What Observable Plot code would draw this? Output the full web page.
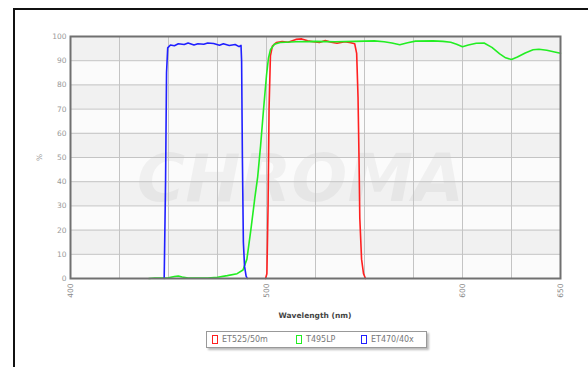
<!DOCTYPE html>
<html>
<head>
<meta charset="utf-8">
<script src="https://cdn.jsdelivr.net/npm/d3@7"></script>
<script src="https://cdn.jsdelivr.net/npm/@observablehq/plot@0.6"></script>
<style>
  html, body { margin: 0; padding: 0; background: #fff; }
  #wrap { position: relative; width: 588px; height: 367px; overflow: hidden; font-family: "DejaVu Sans", sans-serif; }
  #border { position: absolute; left: 13px; top: 8px; width: 600px; height: 400px; border: 2px solid #111; box-sizing: border-box; }
  #chart { position: absolute; left: 0; top: 0; }
  #xtitle { position: absolute; left: 0; width: 630px; top: 311px; text-align: center; font-size: 7.5px; font-weight: bold; color: #444; }
  #legend { position: absolute; left: 206px; top: 331px; width: 221px; height: 17px; box-sizing: border-box;
            border: 1px solid #999; background: #fff; box-shadow: 2px 2px 2px #bbb; }
  .item { position: absolute; top: 3px; font-size: 8px; color: #777; line-height: 9px; white-space: nowrap; }
  .sw { display: inline-block; width: 4px; height: 7px; border: 1px solid; vertical-align: top; margin-right: 4px; }
</style>
</head>
<body>
<div id="wrap">
  <div id="border"></div>
  <div id="chart"></div>
  <div id="xtitle">Wavelength (nm)</div>
  <div id="legend"></div>
</div>
<script>
// Transmission spectra (% T vs wavelength in nm)
const seriesNames = ["ET525/50m", "T495LP", "ET470/40x"];
const seriesColors = ["#ff2020", "#22ee22", "#2020ff"];

const et525Wavelength = [499.5, 500.2, 500.8, 501.3, 502, 503, 505, 508, 511, 515, 518, 521, 524, 527, 530, 533, 536, 540, 543, 545, 546, 546.7, 547.2, 547.6, 548.5, 549.5, 550.5];
const et525Transmission = [0, 2, 30, 70, 92, 96, 97.5, 97.9, 97.6, 98.8, 99, 98.2, 97.8, 97.5, 98.3, 97.6, 97.2, 97.8, 97.4, 97, 93, 75, 50, 25, 8, 2, 0];

const t495Wavelength = [440, 443, 450, 453, 455, 457, 460, 470, 475, 480, 485, 488, 490, 492, 494, 495.5, 497, 498.5, 500, 501, 502, 504, 507, 515, 525, 535, 545, 555, 560, 564, 568, 572, 576, 585, 590, 594, 597, 600, 603, 607, 611, 615, 619, 622, 625, 628, 632, 636, 639, 643, 647, 650];
const t495Transmission = [0, 0.2, 0.3, 0.8, 1.0, 0.6, 0.2, 0.2, 0.5, 1.2, 2.0, 3.5, 8, 20, 33, 42, 55, 70, 84, 91, 94.5, 96.8, 97.5, 97.8, 98, 97.8, 98, 98.2, 97.8, 97.3, 96.6, 97.4, 98.1, 98.2, 98, 97.6, 96.8, 95.8, 96.5, 97.2, 97.3, 95.5, 92.8, 91.2, 90.5, 91.5, 93.2, 94.5, 94.7, 94.3, 93.6, 93.1];

const et470Wavelength = [447.8, 448.5, 449, 449.6, 451, 453, 455, 458, 460, 463, 465, 468, 470, 473, 476, 478, 481, 484, 486, 487, 487.3, 487.7, 488.2, 488.8, 489.6, 490.2];
const et470Transmission = [0, 40, 85, 95.3, 96.5, 96.2, 97, 96.7, 97.3, 96.5, 97, 96.8, 97.3, 97.1, 96.4, 97, 96.3, 96.7, 95.8, 96.3, 90, 50, 15, 5, 1, 0];

const xDomain = [400, 650];
const yDomain = [0, 100];
const xTickValues = [400, 500, 600, 650];
const xGridValues = [400, 425, 450, 475, 500, 525, 550, 575, 600, 625, 650];
const yTickValues = [0, 10, 20, 30, 40, 50, 60, 70, 80, 90, 100];
const bandStarts = [10, 30, 50, 70, 90];

const toRows = (name, xs, ys) => xs.map((w, i) => ({name, w, t: ys[i]}));
const rows = [
  ...toRows(seriesNames[0], et525Wavelength, et525Transmission),
  ...toRows(seriesNames[1], t495Wavelength, t495Transmission),
  ...toRows(seriesNames[2], et470Wavelength, et470Transmission)
];

const chart = Plot.plot({
  width: 588,
  height: 305,
  marginLeft: 70,
  marginRight: 28,
  marginTop: 36,
  marginBottom: 27,
  style: {fontFamily: "DejaVu Sans, sans-serif", fontSize: "7.5px", color: "#777", background: "transparent", overflow: "visible"},
  x: {domain: xDomain},
  y: {domain: yDomain},
  color: {domain: seriesNames, range: seriesColors},
  marks: [
    // plot background with alternating horizontal bands
    Plot.rect([0], {x1: xDomain[0], x2: xDomain[1], y1: yDomain[0], y2: yDomain[1], fill: "#fbfbfb"}),
    Plot.rect(bandStarts, {x1: xDomain[0], x2: xDomain[1], y1: d => d, y2: d => d + 10, fill: "#f1f1f1"}),
    // faint watermark
    Plot.text(["CHROMA"], {frameAnchor: "middle", dx: -15, dy: 22, fontSize: 66, fontWeight: 900, fontStyle: "italic",
      fill: "#000", fillOpacity: 0.045, fontFamily: "DejaVu Sans, sans-serif"}),
    Plot.gridX(xGridValues, {stroke: "#c4c4c4", strokeOpacity: 1}),
    Plot.gridY(yTickValues, {stroke: "#c4c4c4", strokeOpacity: 1}),
    Plot.axisY(yTickValues, {tickSize: 0, tickPadding: 4, label: "%", labelAnchor: "center", labelOffset: 34, labelArrow: "none", fill: "#999"}),
    Plot.axisX(xTickValues, {tickSize: 0, tickPadding: 5, tickRotate: -90, label: null, fill: "#888"}),
    Plot.line(rows, {x: "w", y: "t", z: "name", stroke: "name", strokeWidth: 1.6, curve: "linear"}),
    Plot.frame({stroke: "#707070", strokeWidth: 2})
  ]
});
document.getElementById("chart").appendChild(chart);

// Legend row
const legend = document.getElementById("legend");
const itemLeft = [5, 89, 154];
seriesNames.forEach((name, i) => {
  const el = document.createElement("div");
  el.className = "item";
  el.style.left = itemLeft[i] + "px";
  const sw = document.createElement("span");
  sw.className = "sw";
  sw.style.borderColor = seriesColors[i];
  el.appendChild(sw);
  el.appendChild(document.createTextNode(name));
  legend.appendChild(el);
});
</script>
</body>
</html>
